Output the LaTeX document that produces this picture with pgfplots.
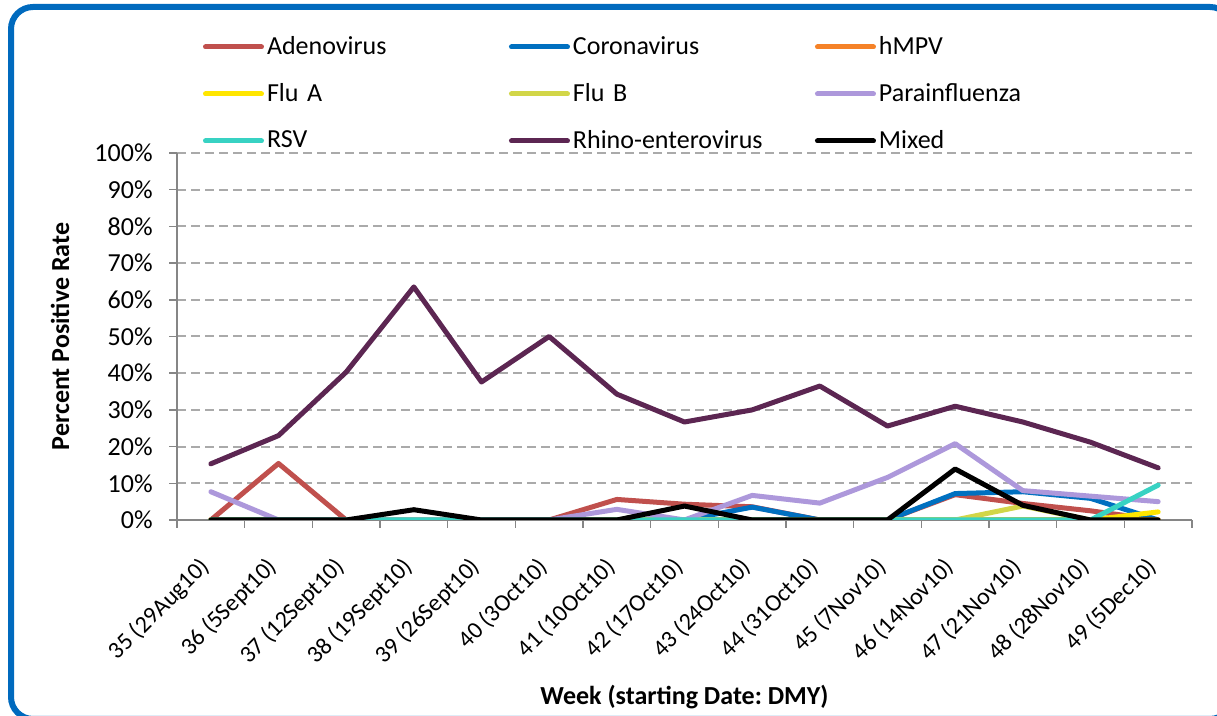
\documentclass[border=0pt]{standalone}
\usepackage{pgfplots}
\pgfplotsset{compat=1.18}
\usepackage{fontspec}
\setmainfont{Carlito}
\frenchspacing

\definecolor{adeno}{RGB}{192,80,77}
\definecolor{corona}{RGB}{0,112,192}
\definecolor{hmpv}{RGB}{245,130,40}
\definecolor{flua}{RGB}{255,230,0}
\definecolor{flub}{RGB}{210,214,72}
\definecolor{parainf}{RGB}{173,152,219}
\definecolor{rsv}{RGB}{56,210,195}
\definecolor{rhino}{RGB}{92,38,82}
\definecolor{frameblue}{RGB}{0,106,190}
\definecolor{axgray}{RGB}{134,134,134}
\definecolor{gridgray}{RGB}{170,170,170}

\newcommand{\lbl}{\fontsize{13}{15.6}\selectfont}
\newcommand{\xlbl}{\fontsize{12}{14.4}\selectfont}

% week index 0..14 = weeks 35..49, values in percent
\pgfplotstableread{
x adeno corona hmpv flua flub para rsv rhino mixed
0  0    0   0 0   0   7.7  0   15.3 0
1  15.4 0   0 0   0   0    0   23.0 0
2  0    0   0 0   0   0    0   40.3 0
3  0    0   0 0   0   0    0   63.5 2.8
4  0    0   0 0   0   0    0   37.6 0
5  0    0   0 0   0   0    0   50.0 0
6  5.6  0   0 0   0   2.9  0   34.3 0
7  4.3  0   0 0   0   0    0   26.7 3.8
8  3.6  3.5 0 0   0   6.7  0   30.0 0
9  0    0   0 0   0   4.6  0   36.5 0
10 0    0   0 0   0   11.6 0   25.6 0
11 6.9  7.2 0 0   0   20.8 0   31.0 13.9
12 4.5  7.7 0 0   3.8 8.0  0   26.7 4.0
13 2.5  5.9 0 0   0   6.5  0   21.2 0
14 0    0   0 2.2 0   5.0  9.5 14.2 0
}\datatable

\begin{document}
\begin{tikzpicture}
  \useasboundingbox (0pt,0pt) rectangle (608.5pt,358pt);
  \draw[frameblue, line width=3pt, rounded corners=11pt]
    (5.5pt,-1.5pt) rectangle (616pt,354.5pt);

  \begin{axis}[
      at={(88.5pt,98pt)}, anchor=south west,
      scale only axis,
      width=507.5pt, height=183.5pt,
      xmin=-0.5, xmax=14.5,
      ymin=0, ymax=100,
      axis x line*=bottom, axis y line*=left,
      axis line style={axgray, line width=0.75pt, -},
      tick align=outside,
      major tick length=4pt,
      tick style={axgray, line width=0.75pt},
      xtick={-0.5,0.5,...,14.5},
      xticklabels={},
      extra x ticks={0,1,...,14},
      extra x tick labels={{35 (29Aug10)},{36 (5Sept10)},{37 (12Sept10)},{38 (19Sept10)},{39 (26Sept10)},{40 (3Oct10)},{41 (10Oct10)},{42 (17Oct10)},{43 (24Oct10)},{44 (31Oct10)},{45 (7Nov10)},{46 (14Nov10)},{47 (21Nov10)},{48 (28Nov10)},{49 (5Dec10)}},
      extra x tick style={major tick length=0pt},
      xticklabel style={font=\xlbl, xshift=-2.5pt, yshift=-21.5pt, rotate=45, anchor=east, inner sep=0pt},
      ytick={0,10,...,100},
      yticklabel={\pgfmathprintnumber{\tick}\%},
      yticklabel style={font=\lbl, inner sep=0pt, xshift=-8pt},
      /pgf/number format/assume math mode=true,
      ymajorgrids,
      major grid style={gridgray, line width=1pt, dash pattern=on 4.5pt off 2.5pt},
      every axis y label/.style={at={(axis description cs:0,0.5)}, xshift=-58.5pt, rotate=90, anchor=center},
      ylabel={\lbl\bfseries Percent Positive Rate},
      every axis x label/.style={at={(axis description cs:0.5,0)}, anchor=center, yshift=-88.5pt},
      xlabel={\lbl\bfseries Week (starting Date: DMY)},
      every axis plot/.append style={line width=2.5pt, line join=round, line cap=round, mark=none},
      legend image code/.code={\draw[#1] (0pt,0pt) -- (28pt,0pt);},
      legend style={
        at={(rel axis cs:0,1)}, anchor=north west, xshift=13pt, yshift=64.75pt,
        draw=none, fill=none, inner sep=0pt, outer sep=0pt,
        legend columns=3, row sep=0pt,
        nodes={font=\lbl, inner xsep=1.5pt, inner ysep=0pt, text width=119.5pt, align=left, minimum height=23.5pt, anchor=west},
        /tikz/every even column/.append style={column sep=0pt},
      },
      legend cell align=left,
    ]
    \addplot[adeno]   table[x=x, y=adeno]  {\datatable};
    \addlegendentry{Adenovirus}
    \addplot[corona]  table[x=x, y=corona] {\datatable};
    \addlegendentry{Coronavirus}
    \addplot[hmpv]    table[x=x, y=hmpv]   {\datatable};
    \addlegendentry{hMPV}
    \addplot[flua]    table[x=x, y=flua]   {\datatable};
    \addlegendentry{\mbox{Flu A}}
    \addplot[flub]    table[x=x, y=flub]   {\datatable};
    \addlegendentry{\mbox{Flu B}}
    \addplot[parainf] table[x=x, y=para]   {\datatable};
    \addlegendentry{Parainfluenza}
    \addplot[rsv]     table[x=x, y=rsv]    {\datatable};
    \addlegendentry{RSV}
    \addplot[rhino]   table[x=x, y=rhino]  {\datatable};
    \addlegendentry{Rhino-enterovirus}
    \addplot[black]   table[x=x, y=mixed]  {\datatable};
    \addlegendentry{Mixed}
  \end{axis}
\end{tikzpicture}
\end{document}
